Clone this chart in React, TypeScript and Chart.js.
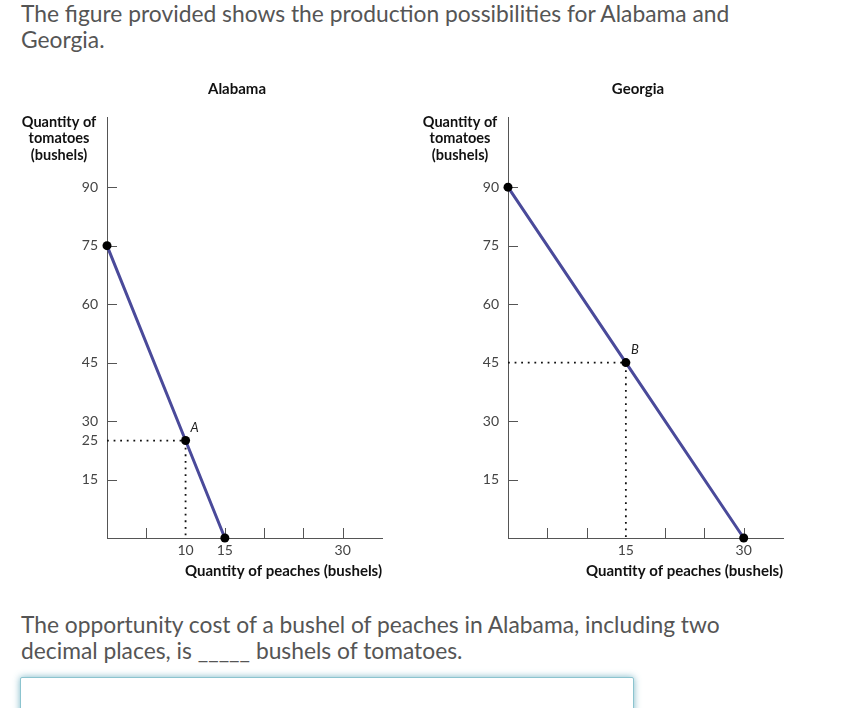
import React, { useEffect, useRef } from "react";
import { Chart, registerables } from "chart.js";

Chart.register(...registerables);

// ---- data ----
const alabamaPeaches = [0, 10, 15];
const alabamaTomatoes = [75, 25, 0];
const georgiaPeaches = [0, 15, 30];
const georgiaTomatoes = [90, 45, 0];

const alabamaYTicks = [15, 25, 30, 45, 60, 75, 90];
const georgiaYTicks = [15, 30, 45, 60, 75, 90];
const xTickMarks = [5, 10, 15, 20, 25, 30];
const alabamaXLabels = [10, 15, 30];
const georgiaXLabels = [15, 30];

const alabamaPointLabel = "A";
const alabamaPointIndex = 1;
const georgiaPointLabel = "B";
const georgiaPointIndex = 1;

const yAxisTitle = ["Quantity of", "tomatoes", "(bushels)"];
const xAxisTitle = "Quantity of peaches (bushels)";

const FONT = "Lato, 'Noto Sans', sans-serif";
const AXIS_COLOR = "#555";
const LINE_COLOR = "#4a4a9a";

const decorPlugin = {
  id: "decor",
  beforeDatasetsDraw(chart: any, _args: any, opts: any) {
    const { ctx, chartArea, scales } = chart;
    const x = scales.x;
    const y = scales.y;
    ctx.save();
    ctx.strokeStyle = AXIS_COLOR;
    ctx.lineWidth = 1;
    ctx.beginPath();
    for (const v of opts.xMarks) {
      if (v === opts.guideX) continue;
      const px = Math.round(x.getPixelForValue(v)) + 0.5;
      ctx.moveTo(px, chartArea.bottom);
      ctx.lineTo(px, chartArea.bottom - 10);
    }
    for (const v of opts.yMarks) {
      if (v === opts.guideY) continue;
      const py = Math.round(y.getPixelForValue(v)) + 0.5;
      ctx.moveTo(chartArea.left, py);
      ctx.lineTo(chartArea.left + 10, py);
    }
    ctx.stroke();
    ctx.restore();
  },
  afterDraw(chart: any, _args: any, opts: any) {
    const { ctx, chartArea, scales } = chart;
    ctx.save();
    ctx.fillStyle = "#111";
    ctx.textBaseline = "middle";
    ctx.textAlign = "center";
    ctx.font = `bold 15px ${FONT}`;
    ctx.fillText(opts.title, chartArea.left + 130, chartArea.top - 28);
    ctx.font = `bold 14.5px ${FONT}`;
    opts.yTitle.forEach((line: string, i: number) => {
      ctx.fillText(line, chartArea.left - 48, chartArea.top + 5 + i * 16.6);
    });
    ctx.font = `italic 13px ${FONT}`;
    ctx.fillStyle = "#222";
    const px = scales.x.getPixelForValue(opts.guideX);
    const py = scales.y.getPixelForValue(opts.guideY);
    ctx.fillText(opts.pointLabel, px + 9, py - 13);
    ctx.restore();
  },
};

type PanelProps = {
  title: string;
  peaches: number[];
  tomatoes: number[];
  yTicks: number[];
  xLabels: number[];
  pointLabel: string;
  pointIndex: number;
  width: number;
  yWidth: number;
  padRight: number;
  left: number;
};

function Panel(p: PanelProps) {
  const ref = useRef<HTMLCanvasElement | null>(null);
  useEffect(() => {
    if (!ref.current) return;
    const pts = p.peaches.map((v, i) => ({ x: v, y: p.tomatoes[i] }));
    const gx = p.peaches[p.pointIndex];
    const gy = p.tomatoes[p.pointIndex];
    const guide = [
      { x: 0, y: gy },
      { x: gx, y: gy },
      { x: gx, y: 0 },
    ];
    const chart = new Chart(ref.current, {
      type: "scatter",
      data: {
        datasets: [
          {
            data: pts,
            showLine: false,
            pointRadius: 4.5,
            pointHoverRadius: 4.5,
            pointBackgroundColor: "#000",
            pointBorderWidth: 0,
            clip: false,
          } as any,
          {
            data: pts,
            showLine: true,
            borderColor: LINE_COLOR,
            borderWidth: 3,
            pointRadius: 0,
            pointHoverRadius: 0,
            clip: false,
          },
          {
            data: guide,
            showLine: true,
            borderColor: "#111",
            borderWidth: 1.8,
            borderDash: [1.8, 4.8],
            pointRadius: 0,
            pointHoverRadius: 0,
            clip: false,
          },
        ],
      },
      options: {
        responsive: false,
        animation: false,
        events: [],
        layout: { padding: { left: 0, top: 47, right: p.padRight, bottom: 0 } },
        plugins: {
          legend: { display: false },
          tooltip: { enabled: false },
          decor: {
            title: p.title,
            yTitle: yAxisTitle,
            xMarks: xTickMarks,
            yMarks: p.yTicks,
            guideX: gx,
            guideY: gy,
            pointLabel: p.pointLabel,
          },
        } as any,
        scales: {
          x: {
            type: "linear",
            min: 0,
            max: 35,
            afterBuildTicks: (s: any) => {
              s.ticks = xTickMarks.map((v) => ({ value: v }));
            },
            afterFit: (s: any) => {
              s.height = 52;
            },
            grid: { display: true, drawOnChartArea: false, drawTicks: false },
            border: { display: true, color: AXIS_COLOR, width: 1 },
            ticks: {
              autoSkip: false,
              maxRotation: 0,
              padding: 4,
              color: "#444",
              font: { family: FONT, size: 14 },
              callback: (v: any) => (p.xLabels.includes(Number(v)) ? String(v) : ""),
            },
            title: {
              display: true,
              text: xAxisTitle,
              align: "end",
              color: "#111",
              font: { family: FONT, size: 15, weight: "bold" },
              padding: { top: 0, bottom: 10 },
            },
          },
          y: {
            type: "linear",
            min: 0,
            max: 108,
            afterBuildTicks: (s: any) => {
              s.ticks = p.yTicks.map((v) => ({ value: v }));
            },
            afterFit: (s: any) => {
              s.width = p.yWidth;
            },
            grid: { display: true, drawOnChartArea: false, drawTicks: false },
            border: { display: true, color: AXIS_COLOR, width: 1 },
            ticks: {
              autoSkip: false,
              padding: 9,
              color: "#444",
              font: { family: FONT, size: 14 },
            },
          },
        },
      },
      plugins: [decorPlugin as any],
    });
    return () => chart.destroy();
  }, []);
  return (
    <canvas
      ref={ref}
      width={p.width}
      height={520}
      style={{ position: "absolute", left: p.left, top: 70, width: p.width, height: 520 }}
    />
  );
}

const textStyle: React.CSSProperties = {
  position: "absolute",
  left: 21,
  fontFamily: FONT,
  fontSize: 22.8,
  lineHeight: "25.5px",
  color: "#555",
  whiteSpace: "nowrap",
};

export default function App() {
  return (
    <div
      style={{
        position: "absolute",
        left: 0,
        top: 0,
        width: 848,
        height: 708,
        overflow: "hidden",
        background: "#fff",
      }}
    >
      <div style={{ ...textStyle, top: 1 }}>
        The figure provided shows the production possibilities for Alabama and
        <br />
        Georgia.
      </div>
      <Panel
        title="Alabama"
        peaches={alabamaPeaches}
        tomatoes={alabamaTomatoes}
        yTicks={alabamaYTicks}
        xLabels={alabamaXLabels}
        pointLabel={alabamaPointLabel}
        pointIndex={alabamaPointIndex}
        width={410}
        yWidth={107}
        padRight={28}
        left={0}
      />
      <Panel
        title="Georgia"
        peaches={georgiaPeaches}
        tomatoes={georgiaTomatoes}
        yTicks={georgiaYTicks}
        xLabels={georgiaXLabels}
        pointLabel={georgiaPointLabel}
        pointIndex={georgiaPointIndex}
        width={438}
        yWidth={98}
        padRight={65}
        left={410}
      />
      <div style={{ ...textStyle, top: 612 }}>
        The opportunity cost of a bushel of peaches in Alabama, including two
        <br />
        decimal places, is _____ bushels of tomatoes.
      </div>
      <div
        style={{
          position: "absolute",
          left: 20,
          top: 677,
          width: 612,
          height: 50,
          border: "1px solid #8cc4cf",
          boxShadow: "0 0 7px rgba(90,165,185,0.8)",
          borderRadius: 2,
          background: "#fff",
        }}
      />
    </div>
  );
}
